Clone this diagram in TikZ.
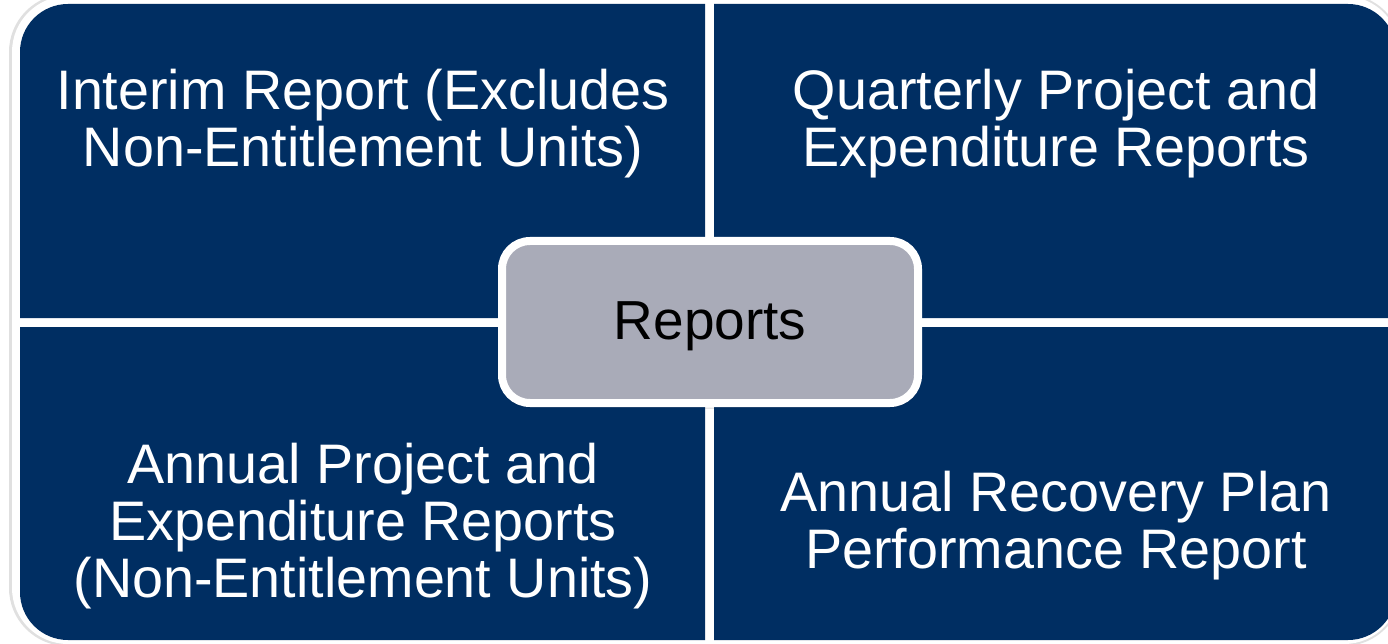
\documentclass[tikz,border=0pt]{standalone}
\usepackage{fontspec}
\setmainfont{Liberation Sans}
\usetikzlibrary{shadows.blur}
\definecolor{navy}{RGB}{0,46,98}
\definecolor{hubgray}{RGB}{169,171,184}
\begin{document}
\begin{tikzpicture}[x=1pt,y=-1pt,
  quad/.style={fill=navy},
  quadtext/.style={text=white, align=center, anchor=base, inner sep=0pt,
    font=\fontsize{55.7}{57}\selectfont},
  hubbox/.style={draw=white, line width=8pt, fill=hubgray, rounded corners=28pt,
    minimum width=416pt, minimum height=162pt, inner sep=0pt, text=black,
    font=\fontsize{55}{57}\selectfont, text height=40pt, text depth=6pt,
    blur shadow={shadow blur steps=6, shadow xshift=0pt, shadow yshift=-3pt, shadow opacity=45}}]
\useasboundingbox (0,0) rectangle (1388,644);
\begin{scope}
\clip (0,0) rectangle (1388,644);
\fill[white] (0,0) rectangle (1388,644);
% frame shadow and white frame
\fill[black!12, rounded corners=58pt] (9,-6) rectangle (1402,646);
\fill[white, rounded corners=56pt] (12,-4) rectangle (1400,644);
% quadrants
\fill[quad] (20,318) -- (20,52) arc[start angle=180, end angle=270, radius=48] -- (705,4) -- (705,318) -- cycle;
\fill[quad] (714,318) -- (714,4) -- (1348,4) arc[start angle=270, end angle=360, radius=48] -- (1396,318) -- cycle;
\fill[quad] (20,327) -- (705,327) -- (705,640) -- (68,640) arc[start angle=90, end angle=180, radius=48] -- cycle;
\fill[quad] (714,327) -- (1396,327) -- (1396,592) arc[start angle=0, end angle=90, radius=48] -- (714,640) -- cycle;
\end{scope}
% texts (base anchor = baseline of last line)
\node[quadtext] (tl) at (363,167) {Interim Report (Excludes\\Non-Entitlement Units)};
\node[quadtext] (tr) at (1056,167) {Quarterly Project and\\Expenditure Reports};
\node[quadtext] (bl) at (363,597) {Annual Project and\\Expenditure Reports\\(Non-Entitlement Units)};
\node[quadtext] (br) at (1056,568) {Annual Recovery Plan\\Performance Report};
% hub
\node[hubbox] (hub) at (710,322) {Reports};
\end{tikzpicture}
\end{document}
